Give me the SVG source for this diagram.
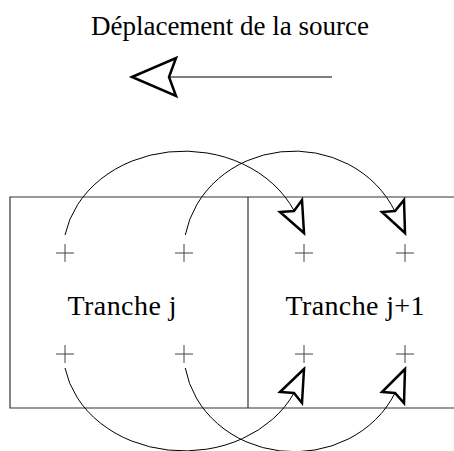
<svg xmlns="http://www.w3.org/2000/svg" width="454" height="451" viewBox="0 0 454 451">
<style>
.t{font-family:"Liberation Serif","Times New Roman",serif;fill:#000}
.frame{fill:none;stroke:#333;stroke-width:1.2}
.plus{stroke:#444;stroke-width:1;fill:none}
.arc{fill:none;stroke:#000;stroke-width:1}
.head{fill:#fff;stroke:#000;stroke-width:2.5;stroke-linejoin:miter}
</style>
<rect width="454" height="451" fill="#fff"/>
<g id="title">
<text class="t" x="230" y="35" font-size="27" text-anchor="middle">Déplacement de la source</text>
</g>
<g id="direction-arrow">
<line x1="170" y1="77" x2="332" y2="77" stroke="#000" stroke-width="1.2"/>
<polygon class="head" points="132,77 176,58 169,77 176,96"/>
</g>
<g id="tranche-j">
<path class="frame" d="M454,197 H10 V408 H454"/>
<text class="t" x="122" y="315" font-size="28" text-anchor="middle" textLength="109" lengthAdjust="spacing">Tranche j</text>
<path class="plus" d="M56,253h18M65,244v18M175,253h18M184,244v18M56,354h18M65,345v18M175,354h18M184,345v18"/>
</g>
<g id="tranche-j1">
<line class="frame" x1="248" y1="197" x2="248" y2="408"/>
<text class="t" x="355" y="315" font-size="28" text-anchor="middle" textLength="139" lengthAdjust="spacing">Tranche j+1</text>
<path class="plus" d="M295,253h18M304,244v18M396,253h18M405,244v18M295,354h18M304,345v18M396,354h18M405,345v18"/>
</g>
<g id="connectors">
<path class="arc" d="M65,235 A121,102 0 0 1 294,210.5"/>
<path class="arc" d="M185.3,235 A110.5,102 0 0 1 395,211.6"/>
<path class="arc" d="M65,368 A121,100 0 0 0 294,393"/>
<path class="arc" d="M185.3,368 A110.5,100 0 0 0 395,393"/>
<polygon class="head" points="304,233 280,212 294,211 302,200"/>
<polygon class="head" points="405,233 382,212 395,211 404,200"/>
<polygon class="head" points="304,369 280,392 294,393 302,403"/>
<polygon class="head" points="405,369 382,392 395,393 404,403"/>
</g>
</svg>
